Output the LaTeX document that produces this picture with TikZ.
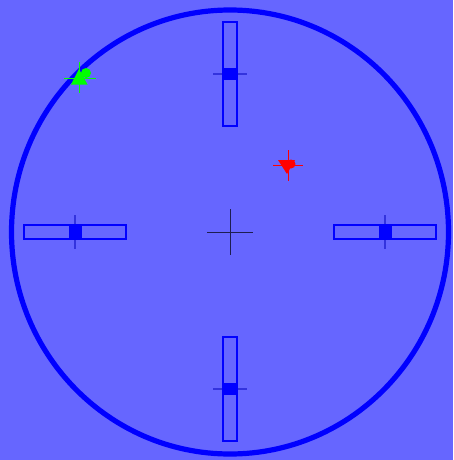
\documentclass[tikz,border=0pt]{standalone}
\usepackage{xcolor}
\usepackage{tikz}
\definecolor{padbg}{RGB}{102,102,255}
\definecolor{padblue}{RGB}{0,0,255}
\definecolor{tickblue}{RGB}{51,51,221}
\definecolor{hairdark}{RGB}{30,30,80}
\begin{document}
\begin{tikzpicture}[x=1pt, y=-1pt,
    track/.style={draw=padblue, line width=1.1pt},
    knob/.style={fill=padblue},
    tick/.style={draw=tickblue, line width=1.6pt},
    hair/.style={line width=0.9pt}]
    % Background and frame
    \fill[padbg] (0,0) rectangle (453,460);
    \useasboundingbox (0,0) rectangle (453,460);
    \draw[padblue, line width=5.2pt] (230,232) ellipse [x radius=218.5, y radius=222];

    % Vertical sliders (top, bottom)
    \foreach \yy in {74, 389} {
        \draw[tick] (213,\yy) -- (247,\yy);
        \draw[track] (223,\yy-52) rectangle (237,\yy+52);
        \fill[knob] (223,\yy-6) rectangle (237,\yy+6);
    }
    % Horizontal sliders (left, right)
    \foreach \xx in {75, 385} {
        \draw[tick] (\xx,215) -- (\xx,249);
        \draw[track] (\xx-51,225) rectangle (\xx+51,239);
        \fill[knob] (\xx-6.5,225) rectangle (\xx+6.5,239);
    }

    % Centre cross
    \draw[hair, hairdark] (207,232) -- (253,232);
    \draw[hair, hairdark] (230,209) -- (230,255);

    % Green marker
    \draw[hair, green] (64,78) -- (96,78);
    \draw[hair, green] (79.5,62) -- (79.5,93);
    \fill[green] (71,84.5) -- (87.5,84.5) -- (79,69) -- cycle;
    \fill[green] (86,73) circle (5);

    % Red marker
    \draw[hair, red] (273,165) -- (303,165);
    \draw[hair, red] (288,150) -- (288,181);
    \fill[red] (278,160) -- (295,160) -- (287,174) -- cycle;
    \fill[red] (291,164) circle (4.5);
\end{tikzpicture}
\end{document}
